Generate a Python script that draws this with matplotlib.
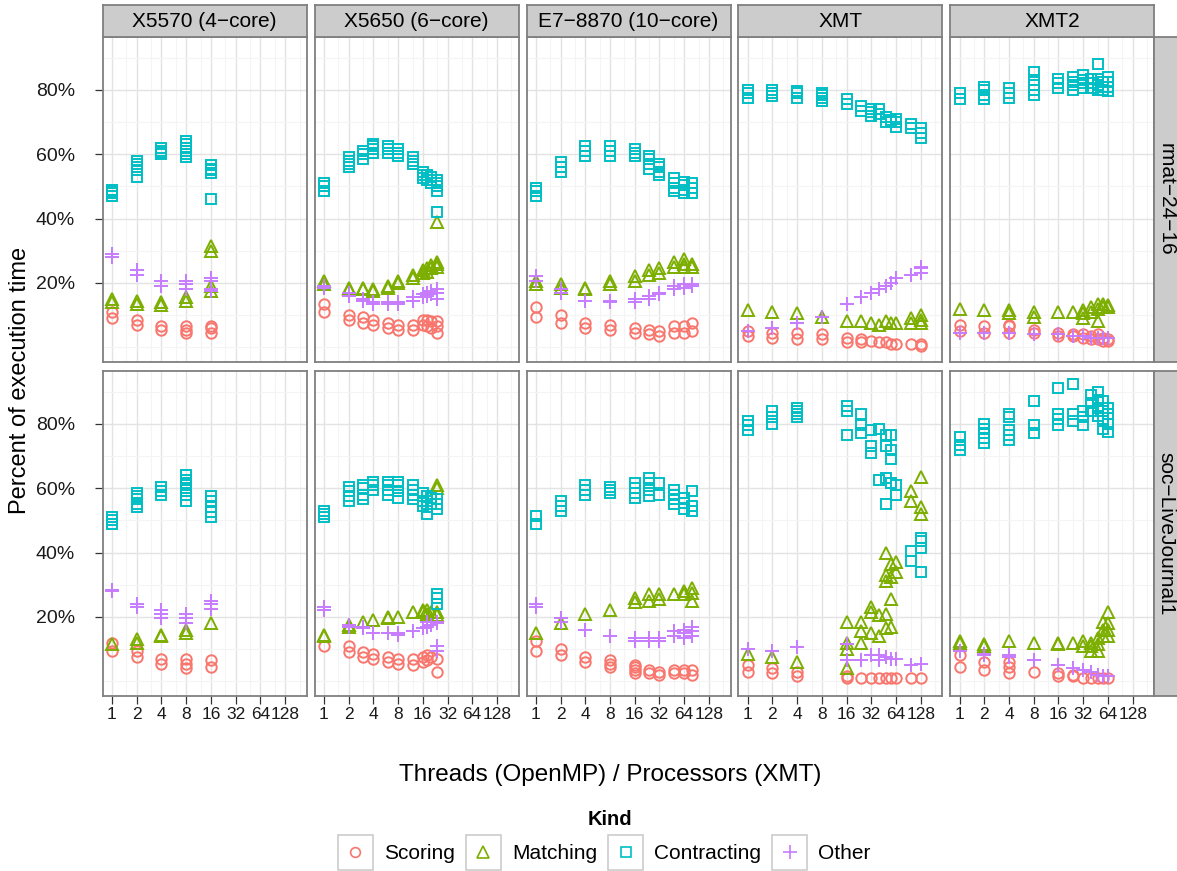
import matplotlib
matplotlib.use("Agg")
import matplotlib.pyplot as plt
from matplotlib.patches import Rectangle
from matplotlib.lines import Line2D

plt.rcParams['font.family'] = ['Liberation Sans', 'DejaVu Sans']

# Data: one list of thread counts per panel, and for every
# kind a list of the (repeated) measurements at each thread count, in percent.

# rmat-24-16
rmat_x5570_threads = [1, 2, 4, 8, 16]
rmat_x5570_scoring = [[9, 11], [7, 8.5], [5.5, 6.5], [4.5, 5.5, 6.5], [4.5, 6, 6.5]]
rmat_x5570_matching = [[14, 15], [13.5, 14.5], [13, 14], [14.5, 15.5], [17.5, 19, 30, 31.5]]
rmat_x5570_contracting = [[47, 48, 48.5, 49], [53, 55, 56, 57, 58], [60, 60.5, 61, 62],
                          [59, 60, 61, 62, 63, 64], [46, 54, 55, 55.5, 56.5]]
rmat_x5570_other = [[28, 29], [22.5, 24], [19, 20.5], [18, 19.5, 20.5], [17.5, 18, 20.5, 21.5]]

rmat_x5650_threads = [1, 2, 3, 4, 6, 8, 12, 16, 18, 20, 24]
rmat_x5650_scoring = [[11, 13.5], [8.5, 10], [7.5, 9.5], [7, 8.5], [6, 7.5], [5.5, 7], [5.5, 7],
                      [7, 8.5], [6.5, 8.5], [6, 8], [4.5, 6.5, 8]]
rmat_x5650_matching = [[19.5, 20.5], [18, 18.5], [18, 18.5], [17.5, 18], [18.5, 19], [20, 20.5],
                       [21.5, 22.5], [23, 24], [23.5, 24.5], [24.5, 25.5], [25, 26, 26.5, 39]]
rmat_x5650_contracting = [[48.5, 50, 51], [56, 57, 58, 59], [58.5, 60, 61], [60.5, 61.5, 62.5, 63],
                          [60.5, 61.5, 62.5], [59.5, 60.5, 61.5], [57, 58, 59], [52.5, 53.5, 54.5],
                          [52, 53.5], [51, 52, 53], [48.5, 50, 51, 52, 42]]
rmat_x5650_other = [[18.5, 19], [16, 17], [14.5, 15], [13.5, 14], [13.5, 14], [13.5, 14],
                    [14.5, 15.5], [15.5, 16.5], [16, 17], [16.5, 17.5], [15, 17, 18]]

rmat_e7_threads = [1, 2, 4, 8, 16, 24, 32, 48, 64, 80]
rmat_e7_scoring = [[9.5, 12.5], [7.5, 10], [6, 7.5], [5.5, 7], [4.5, 6], [4, 5.5], [3.5, 5],
                   [4.5, 6.5], [4.5, 6.5], [5, 7.5]]
rmat_e7_matching = [[19.5, 20.5], [18.5, 19.5], [18, 18.5], [19.5, 20.5], [20.5, 22], [22.5, 24],
                    [23, 24.5], [25, 26.5], [25, 26, 27.5], [25, 26]]
rmat_e7_contracting = [[47, 48.5, 49.5], [54.5, 56, 57.5], [59.5, 61, 62.5], [59.5, 61, 62.5],
                       [59.5, 60.5, 61.5], [55.5, 57, 58.5, 59.5], [53.5, 54.5, 56, 57],
                       [48.5, 49.5, 51, 52.5], [48, 49, 50.5, 51.5], [48, 49.5, 51]]
rmat_e7_other = [[20.5, 22], [17, 18], [14.5], [14, 14.5], [14, 15], [15, 16], [16.5, 17],
                 [18, 19], [18.5, 19.5], [19, 19.5]]

rmat_xmt_threads = [1, 2, 4, 8, 16, 24, 32, 40, 48, 56, 64, 96, 128]
rmat_xmt_scoring = [[3.5, 5], [3, 4.5], [2.5, 4.5], [2.5, 4], [1.5, 3], [1.5, 2.5], [2], [1.5],
                    [1.5], [1], [1], [1], [0.5, 1]]
rmat_xmt_matching = [[11.5], [11], [10.5], [9.5], [8], [8], [7.5], [7], [8], [7.5], [7.5],
                     [7.5, 9], [7.5, 8.5, 10]]
rmat_xmt_contracting = [[77.5, 79, 80], [78, 79, 80], [77.5, 79, 79.5], [76.5, 77.5, 78.5, 79],
                        [75.5, 77], [73.5, 75], [72, 73, 74], [72.5, 74], [70, 71.5], [70.5],
                        [68.5, 70, 71], [68, 69.5], [65, 66.5, 68]]
rmat_xmt_other = [[5], [6], [7.5], [9.5], [13.5], [15.5], [17], [18], [19], [20], [21.5],
                  [22.5], [23, 24.5, 25]]

rmat_xmt2_threads = [1, 2, 4, 8, 16, 24, 32, 40, 48, 56, 64]
rmat_xmt2_scoring = [[5, 7], [4.5, 6.5], [4.5, 6.5, 7], [4.5, 5.5], [3.5, 4.5], [3.5, 4], [3, 4],
                     [2.5, 3.5], [2.5, 4], [2, 3], [2, 2.5]]
rmat_xmt2_matching = [[12], [11.5], [10.5, 11.5], [9.5, 11], [11], [11], [9, 10.5, 11.5],
                      [11, 12.5], [8, 12, 13.5], [12.5, 13.5], [12.5, 13]]
rmat_xmt2_contracting = [[77, 79], [77, 78.5, 80, 81], [77.5, 79, 80.5], [78.5, 80, 81.5, 83, 85.5],
                         [80.5, 82, 83.5], [80, 81.5, 82.5, 84], [80.5, 82, 83, 84.5],
                         [80.5, 82, 83.5], [80, 81.5, 83.5, 88], [80, 81, 82.5],
                         [79.5, 81, 82.5, 84]]
rmat_xmt2_other = [[4.5], [4.5], [4.5], [4], [4], [3.5], [3.5], [3], [3], [3], [3]]

# soc-LiveJournal1
soc_x5570_threads = [1, 2, 4, 8, 16]
soc_x5570_scoring = [[9.5, 12], [7.5, 9.5], [5.5, 7], [4, 5.5, 7], [4.5, 6.5]]
soc_x5570_matching = [[11.5], [12, 13], [14, 14.5], [15, 16], [18]]
soc_x5570_contracting = [[49, 50, 51], [54, 55, 56.5, 57.5, 58.5], [58, 59, 60.5],
                         [56, 58, 60, 61.5, 62.5, 64], [51, 52.5, 54, 56, 57.5]]
soc_x5570_other = [[28, 28.5], [23, 24], [19.5, 21, 22], [18, 19.5, 21], [22.5, 24, 25]]

soc_x5650_threads = [1, 2, 3, 4, 6, 8, 12, 16, 18, 20, 24]
soc_x5650_scoring = [[11], [9, 11], [7.5, 9], [7, 8.5], [6, 7.5], [5.5, 7], [5, 7], [6, 7.5],
                     [6.5, 8], [7.5], [7, 3]]
soc_x5650_matching = [[14, 14.5], [17, 17.5], [18.5], [19], [19.5, 20], [20], [21.5], [21.5, 22],
                      [21, 22], [21.5], [20.5, 21.5, 60, 61]]
soc_x5650_contracting = [[51, 52, 53], [56, 57.5, 59, 60.5], [56.5, 58, 60, 61], [59.5, 61, 62],
                         [58, 59.5, 61, 62], [57, 59, 61, 62], [56.5, 58, 59.5, 61],
                         [54.5, 56, 58.5], [52, 54, 56, 57.5], [55, 57],
                         [53.5, 55, 56.5, 24, 26, 27]]
soc_x5650_other = [[22, 23], [17, 17.5], [16.5, 17], [15], [15], [14.5, 15], [15.5], [16.5],
                   [17, 18.5], [17.5], [18, 18.5, 11, 9.5]]

soc_e7_threads = [1, 2, 4, 8, 16, 24, 32, 48, 64, 80]
soc_e7_scoring = [[9.5, 12.5], [8, 10], [6, 7.5], [4.5, 5.5, 6.5], [2.5, 3.5, 4.5, 5], [2.5, 3.5],
                  [2, 3], [2.5, 3.5], [2.5, 3.5], [2, 3.5]]
soc_e7_matching = [[15], [18], [21], [22], [24.5, 26], [25, 27], [25.5, 27], [27], [27, 28],
                   [25, 27.5, 29]]
soc_e7_contracting = [[49, 51.5], [53, 54.5, 56], [58, 59.5, 61], [58.5, 59.5, 60.5],
                      [57, 58.5, 60, 61.5], [57.5, 59.5, 61.5, 63], [58, 61.5],
                      [55, 56.5, 58, 59.5], [53.5, 55.5, 57], [53, 54.5, 59]]
soc_e7_other = [[23, 24], [18.5, 19.5], [16], [14], [12.5, 13.5], [12.5, 13.5], [12.5, 13.5],
                [14, 15.5], [13.5, 15, 16], [14, 15.5, 17]]

soc_xmt_threads = [1, 2, 4, 16, 24, 32, 40, 48, 56, 64, 96, 128]
soc_xmt_scoring = [[3, 5], [2.5, 4], [1.5, 3], [1, 1.5], [1], [1], [1], [1], [1], [1], [1], [1]]
soc_xmt_matching = [[8.5], [7.5], [6], [4, 10, 12, 18.5], [12, 15.5, 18.5], [15, 21.5, 23],
                    [14, 20.5], [16.5, 21, 31, 33, 40], [17, 25.5, 32.5, 36.5], [34, 37],
                    [56, 59], [52, 54, 63.5]]
soc_xmt_contracting = [[78, 79.5, 81], [80, 82, 84], [82, 83, 84, 85], [76.5, 84, 85.5],
                       [77, 79.5, 83], [71, 73, 78], [62.5, 78.5], [55, 63, 73, 76.5],
                       [61.5, 69, 72, 76.5], [58, 61], [37.5, 40.5], [34, 41.5, 43.5, 44.5]]
soc_xmt_other = [[10], [9.5], [10.5], [6.5, 11.5], [6.5], [8], [6.5, 8], [7.5], [7], [7], [5],
                 [5.5]]

soc_xmt2_threads = [1, 2, 4, 8, 16, 24, 32, 40, 48, 56, 64]
soc_xmt2_scoring = [[4.5, 8], [3.5, 6], [2.5, 4.5, 6], [3], [1.5, 2.5], [1.5, 2], [1], [1], [1],
                    [1], [1]]
soc_xmt2_matching = [[12, 12.5], [11, 11.5], [12.5], [12], [11.5, 12], [12], [11, 12.5],
                     [9.5, 11, 12], [9.5, 11.5, 13.5], [14, 16, 18.5], [14, 16, 18, 21.5]]
soc_xmt2_contracting = [[72, 73.5, 76], [74, 75.5, 77, 78.5, 80], [75, 76.5, 78, 82, 83],
                        [77, 79.5, 87], [79.5, 81.5, 83, 91], [81, 83, 92.5], [79.5, 82, 84],
                        [84, 86.5, 89], [82.5, 85, 87.5, 90], [78.5, 81, 84, 87],
                        [77.5, 80, 83, 85]]
soc_xmt2_other = [[9.5], [8, 8.5], [7.5, 8], [6.5], [5], [4], [3.5], [3], [2], [1.5], [1.5]]

machines = ['X5570 (4\u2212core)', 'X5650 (6\u2212core)', 'E7\u22128870 (10\u2212core)', 'XMT', 'XMT2']
graphs = ['rmat\u221224\u221216', 'soc\u2212LiveJournal1']
kinds = ['Scoring', 'Matching', 'Contracting', 'Other']
x_ticks = [1, 2, 4, 8, 16, 32, 64, 128]
y_ticks = [20, 40, 60, 80]

panels = [
    [(rmat_x5570_threads, [rmat_x5570_scoring, rmat_x5570_matching, rmat_x5570_contracting, rmat_x5570_other]),
     (rmat_x5650_threads, [rmat_x5650_scoring, rmat_x5650_matching, rmat_x5650_contracting, rmat_x5650_other]),
     (rmat_e7_threads, [rmat_e7_scoring, rmat_e7_matching, rmat_e7_contracting, rmat_e7_other]),
     (rmat_xmt_threads, [rmat_xmt_scoring, rmat_xmt_matching, rmat_xmt_contracting, rmat_xmt_other]),
     (rmat_xmt2_threads, [rmat_xmt2_scoring, rmat_xmt2_matching, rmat_xmt2_contracting, rmat_xmt2_other])],
    [(soc_x5570_threads, [soc_x5570_scoring, soc_x5570_matching, soc_x5570_contracting, soc_x5570_other]),
     (soc_x5650_threads, [soc_x5650_scoring, soc_x5650_matching, soc_x5650_contracting, soc_x5650_other]),
     (soc_e7_threads, [soc_e7_scoring, soc_e7_matching, soc_e7_contracting, soc_e7_other]),
     (soc_xmt_threads, [soc_xmt_scoring, soc_xmt_matching, soc_xmt_contracting, soc_xmt_other]),
     (soc_xmt2_threads, [soc_xmt2_scoring, soc_xmt2_matching, soc_xmt2_contracting, soc_xmt2_other])],
]

colors = ['#F8766D', '#7CAE00', '#00BFC4', '#C77CFF']
markers = ['o', '^', 's', '+']
msizes = [7.5, 9, 7.5, 10]

W, H = 1177, 871
BORDER = '#7F7F7F'


def rect(left, top, width, height):
    return [left / W, 1 - (top + height) / H, width / W, height / H]


def draw_marker(ax_or_fig, x, y, k, **kw):
    style = dict(ls='none', marker=markers[k], ms=msizes[k], mew=1.4)
    if markers[k] == '+':
        style.update(color=colors[k])
    else:
        style.update(mfc='none', mec=colors[k])
    style.update(kw)
    return Line2D(x, y, **style)


fig = plt.figure(figsize=(W / 100, H / 100), dpi=100)

p_left, p_step_x, p_w = 102.7, 211.9, 204
p_top, p_step_y, p_h = 36.7, 334, 325

for r, graph in enumerate(graphs):
    for c, machine in enumerate(machines):
        left = p_left + c * p_step_x
        top = p_top + r * p_step_y
        ax = fig.add_axes(rect(left, top, p_w, p_h))
        ax.set_xscale('log', base=2)
        ax.set_xlim(2 ** -0.375, 2 ** 7.875)
        ax.set_ylim(-4.5, 96.5)
        ax.set_xticks(x_ticks)
        ax.set_xticks([1.5 * 2 ** k for k in range(8)], minor=True)
        ax.set_yticks(y_ticks)
        ax.set_yticks([0, 10, 30, 50, 70, 90], minor=True)
        ax.grid(which='major', color='#E3E3E3', lw=1.0)
        ax.grid(which='minor', color='#F4F4F4', lw=0.8)
        ax.set_axisbelow(True)
        for s in ax.spines.values():
            s.set_color(BORDER)
            s.set_linewidth(1.3)
        ax.tick_params(which='minor', length=0)
        ax.tick_params(which='major', length=6, width=0.9, color='#333333',
                       labelcolor='#1a1a1a')
        ax.tick_params(axis='x', pad=2, labelsize=12.5)
        ax.tick_params(axis='y', pad=14, labelsize=14)
        if r == 1:
            ax.set_xticklabels([str(t) for t in x_ticks])
        else:
            ax.tick_params(axis='x', length=0, labelbottom=False)
        if c == 0:
            ax.set_yticklabels([f'{t}%' for t in y_ticks])
        else:
            ax.tick_params(axis='y', length=0, labelleft=False)

        threads, series = panels[r][c]
        for k in range(4):
            xs = [t for t, ys in zip(threads, series[k]) for _ in ys]
            ys = [y for vals in series[k] for y in vals]
            ax.add_line(draw_marker(ax, xs, ys, k))

        # strip on top (column labels)
        if r == 0:
            sax = fig.add_axes(rect(left, 5.5, p_w, 31.2))
            sax.set_facecolor('#CCCCCC')
            sax.set_xticks([])
            sax.set_yticks([])
            for s in sax.spines.values():
                s.set_color(BORDER)
                s.set_linewidth(1.3)
            sax.text(0.5, 0.5, machine, ha='center', va='center', fontsize=15,
                     transform=sax.transAxes)

    # strip on the right (row labels)
    rax = fig.add_axes(rect(1154, p_top + r * p_step_y, 40, p_h))
    rax.set_facecolor('#CCCCCC')
    rax.set_xticks([])
    rax.set_yticks([])
    for s in rax.spines.values():
        s.set_color(BORDER)
        s.set_linewidth(1.3)
    fig.text(1166 / W, 1 - (p_top + r * p_step_y + p_h / 2) / H, graph, rotation=-90,
             ha='center', va='center', fontsize=15)

fig.text(610 / W, 1 - 775 / H, 'Threads (OpenMP) / Processors (XMT)', ha='center', va='center',
         fontsize=17.5)
fig.text(20 / W, 1 - 380 / H, 'Percent of execution time', ha='center', va='center',
         rotation=90, fontsize=17)

# legend drawn by hand (ggplot style keys)
fig.text(610 / W, 1 - 819 / H, 'Kind', ha='center', va='center', fontsize=14.5, fontweight='bold')
key_lefts = [338, 466, 608, 772]
key_w = 35
for k, kl in enumerate(key_lefts):
    fig.add_artist(Rectangle((kl / W, 1 - 870 / H), key_w / W, key_w / H, transform=fig.transFigure,
                             facecolor='white', edgecolor='#CCCCCC', lw=1.2))
    cx, cy = (kl + key_w / 2) / W, 1 - 852 / H
    fig.add_artist(draw_marker(fig, [cx], [cy], k, transform=fig.transFigure,
                               ms=msizes[k] - 0.5, mew=1.2))
    fig.text((kl + key_w + 11) / W, 1 - 853 / H, kinds[k], ha='left', va='center', fontsize=15)

fig.savefig('out.png', dpi=100)
